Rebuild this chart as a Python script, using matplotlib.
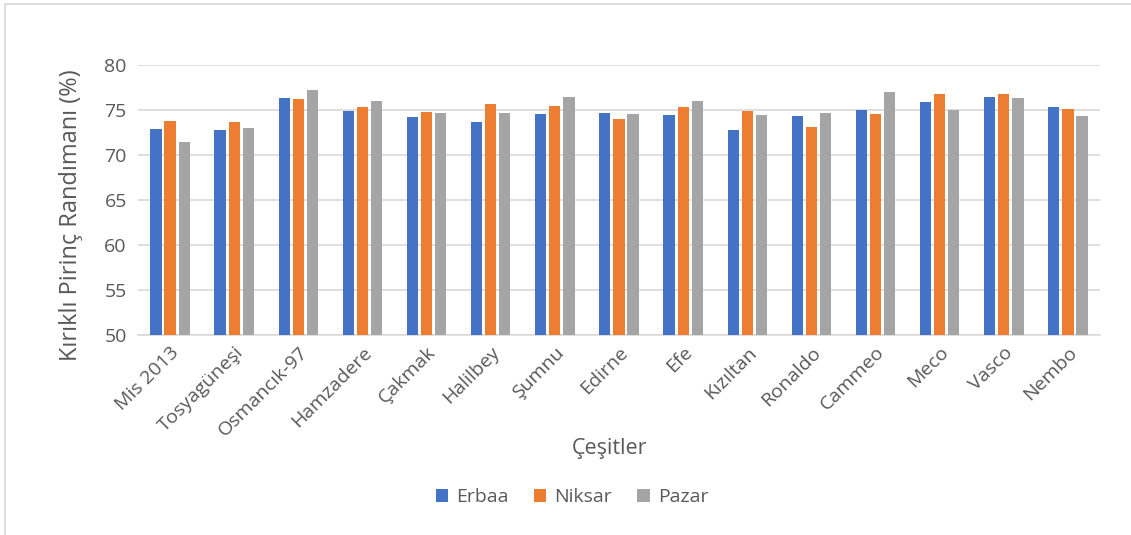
import numpy as np
import matplotlib.pyplot as plt
from matplotlib.patches import Rectangle

plt.rcParams['font.family'] = ['Open Sans', 'DejaVu Sans']

cesitler = ["Mis 2013", "Tosyagüneşi", "Osmancık-97", "Hamzadere", "Çakmak",
            "Halilbey", "Şumnu", "Edirne", "Efe", "Kızıltan",
            "Ronaldo", "Cammeo", "Meco", "Vasco", "Nembo"]
erbaa = [72.9, 72.8, 76.3, 74.85, 74.2, 73.7, 74.55, 74.65, 74.5, 72.8,
         74.3, 75.05, 75.9, 76.45, 75.3]
niksar = [73.75, 73.65, 76.2, 75.3, 74.8, 75.65, 75.4, 74.0, 75.35, 74.85,
          73.1, 74.6, 76.8, 76.8, 75.1]
pazar = [71.5, 73.05, 77.2, 75.95, 74.7, 74.65, 76.5, 74.55, 76.0, 74.5,
         74.7, 77.05, 75.05, 76.35, 74.35]

series = [("Erbaa", erbaa, "#4472c4"),
          ("Niksar", niksar, "#ed7d31"),
          ("Pazar", pazar, "#a5a5a5")]

fig = plt.figure(figsize=(11.31, 5.35), dpi=100)
ax = fig.add_axes([0.122, 0.3738, 0.8506, 0.5047])

x = np.arange(len(cesitler))
step = 0.22
for i, (name, vals, col) in enumerate(series):
    ax.bar(x + (i - 1) * step, np.array(vals) - 50, bottom=50, width=0.175,
           color=col, label=name, zorder=3)

ax.set_xlim(-0.5, len(cesitler) - 0.5)
ax.set_ylim(50, 80)
ax.set_yticks(range(50, 81, 5))
ax.yaxis.grid(True, color="#d9d9d9", linewidth=1.2, zorder=0)
for s in ["top", "right", "left"]:
    ax.spines[s].set_visible(False)
ax.spines["bottom"].set_color("#d9d9d9")
ax.spines["bottom"].set_linewidth(1.2)
ax.tick_params(axis="both", length=0, labelsize=14, colors="#595959")
ax.tick_params(axis="y", pad=8)
ax.tick_params(axis="x", pad=6)
ax.set_xticks(x)
ax.set_xticklabels(cesitler, rotation=45, ha="right", rotation_mode="anchor")
ax.set_ylabel("Kırıklı Pirinç Randımanı (%)", fontsize=17, color="#595959")
ax.yaxis.set_label_coords(-0.057, 0.444)
ax.set_xlabel("Çeşitler", fontsize=15.5, color="#595959")
ax.xaxis.set_label_coords(0.4906, -0.381)

ax.legend(loc="center", bbox_to_anchor=(0.451, -0.6), ncol=3, frameon=False,
          fontsize=14, labelcolor="#595959", handlelength=0.65, handleheight=0.65,
          columnspacing=1.3, handletextpad=0.4)

# thin frame around the chart area
fig.patches.append(Rectangle((5 / 1131, -0.02), 1.05, 1 - 4 / 535 + 0.02,
                             transform=fig.transFigure, fill=False,
                             edgecolor="#d9d9d9", linewidth=1.2))

fig.savefig("out.png", dpi=100)
